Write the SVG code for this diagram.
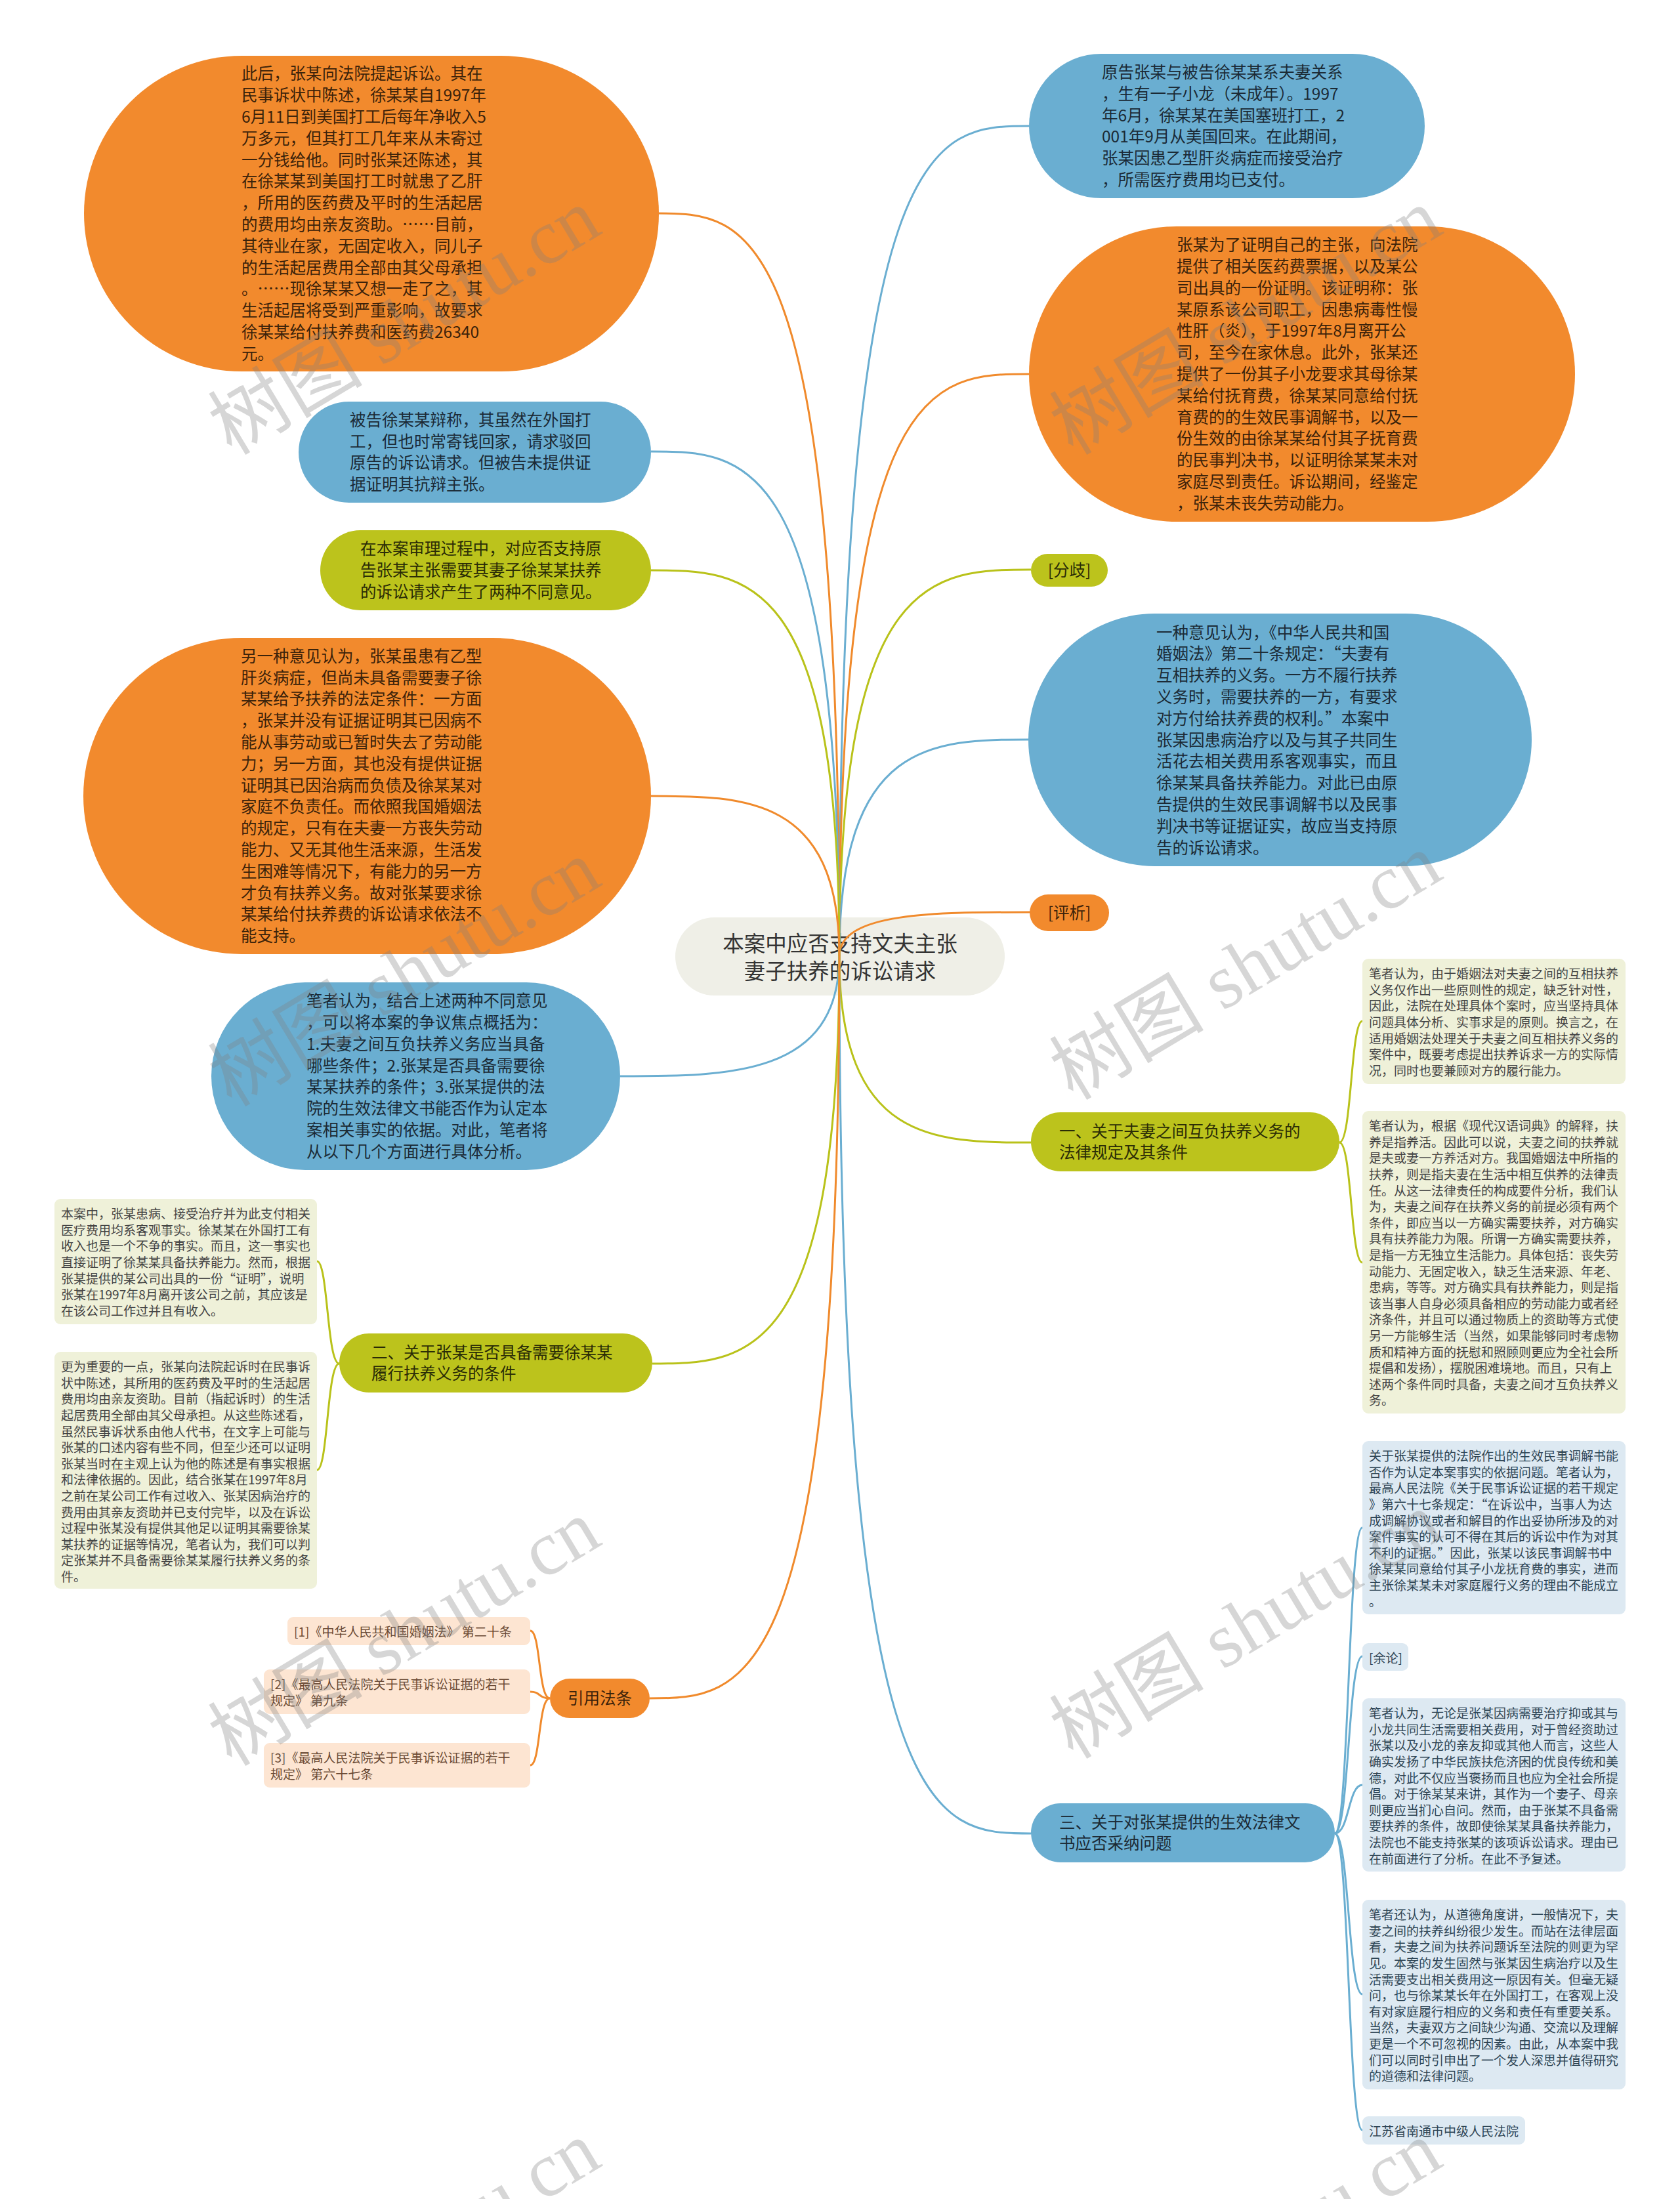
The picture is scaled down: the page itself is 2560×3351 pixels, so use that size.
<svg xmlns="http://www.w3.org/2000/svg" width="2560" height="3351" viewBox="0 0 2560 3351">
<style>
text{font-family:'Noto Sans CJK SC','Noto Sans',sans-serif;}
.o{fill:#f28a2d}.b{fill:#6aaed1}.g{fill:#bcc31c}.c{fill:#efefe7}
.bg{fill:#eff1d9}.bb{fill:#dde9f2}.bo{fill:#fde5d2}
.to{fill:#3b220a;font-size:24.5px}.tb{fill:#1b2a35;font-size:24.5px}.tg{fill:#2a2c06;font-size:24.5px}
.sg{fill:#444;font-size:19px}.sb{fill:#2e4555;font-size:19px}.so{fill:#6a4a35;font-size:19px}
.l{fill:none;stroke-width:3}.lo{stroke:#f08a2c}.lb{stroke:#6aaed1}.lg{stroke:#b9c21a}
.wm{fill:#808080;fill-opacity:0.32;font-family:'Liberation Serif','Noto Sans CJK SC',serif;font-size:118px}
</style>
<rect width="2560" height="3351" fill="#ffffff"/>

<g id="center">
<rect class="c" x="1029" y="1398" width="502" height="119" rx="59.5"/>
<text x="1280" y="1450" font-size="32.5" fill="#333" text-anchor="middle">本案中应否支持文夫主张<tspan x="1280" dy="42">妻子扶养的诉讼请求</tspan></text>
</g>

<g id="connectors">
<path class="l lb" d="M1279,1457 C1279,192 1423,192 1568,192"/>
<path class="l lo" d="M1279,1457 C1279,570 1423,570 1568,570"/>
<path class="l lg" d="M1279,1457 C1279,868 1425,868 1571,868"/>
<path class="l lb" d="M1279,1457 C1279,1127 1423,1127 1567,1127"/>
<path class="l lo" d="M1279,1457 C1279,1390 1425,1390 1571,1390"/>
<path class="l lg" d="M1279,1457 C1279,1741 1425,1741 1571,1741"/>
<path class="l lb" d="M1279,1457 C1279,2794 1425,2794 1571,2794"/>
<path class="l lo" d="M1279,1457 C1279,325 1140,325 1000,325"/>
<path class="l lb" d="M1279,1457 C1279,688 1135,688 992,688"/>
<path class="l lg" d="M1279,1457 C1279,869 1135,869 992,869"/>
<path class="l lo" d="M1279,1457 C1279,1213 1134,1213 990,1213"/>
<path class="l lb" d="M1279,1457 C1279,1640 1112,1640 945,1640"/>
<path class="l lg" d="M1279,1457 C1279,2078 1136,2078 994,2078"/>
<path class="l lo" d="M1279,1457 C1279,2588 1134,2588 990,2588"/>
<path class="l lg" d="M2041,1741 C2060,1741 2058,1556 2076,1556"/>
<path class="l lg" d="M2041,1741 C2060,1741 2058,1924 2076,1924"/>
<path class="l lb" d="M2034,2794 C2056,2794 2054,2328 2076,2328"/>
<path class="l lb" d="M2034,2794 C2056,2794 2054,2524 2076,2524"/>
<path class="l lb" d="M2034,2794 C2056,2794 2054,2720 2076,2720"/>
<path class="l lb" d="M2034,2794 C2056,2794 2054,3039 2076,3039"/>
<path class="l lb" d="M2034,2794 C2056,2794 2054,3246 2076,3246"/>
<path class="l lg" d="M517,2078 C498,2078 500,1922 483,1922"/>
<path class="l lg" d="M517,2078 C498,2078 500,2240 483,2240"/>
<path class="l lo" d="M838,2588 C820,2588 824,2485 808,2485"/>
<path class="l lo" d="M838,2588 C820,2588 824,2578 808,2578"/>
<path class="l lo" d="M838,2588 C820,2588 824,2690 808,2690"/>
</g>

<g id="n-tr">
<rect class="b" x="1568" y="82" width="603" height="220" rx="110"/>
<text class="tb" x="1679" y="119">原告张某与被告徐某某系夫妻关系<tspan x="1679" dy="32.8">，生有一子小龙（未成年）。1997</tspan><tspan x="1679" dy="32.8">年6月，徐某某在美国塞班打工，2</tspan><tspan x="1679" dy="32.8">001年9月从美国回来。在此期间，</tspan><tspan x="1679" dy="32.8">张某因患乙型肝炎病症而接受治疗</tspan><tspan x="1679" dy="32.8">，所需医疗费用均已支付。</tspan></text>
</g>

<g id="n-ro">
<rect class="o" x="1568" y="345" width="832" height="450" rx="225"/>
<text class="to" x="1793" y="382.2">张某为了证明自己的主张，向法院<tspan x="1793" dy="32.8">提供了相关医药费票据，以及某公</tspan><tspan x="1793" dy="32.8">司出具的一份证明。该证明称：张</tspan><tspan x="1793" dy="32.8">某原系该公司职工，因患病毒性慢</tspan><tspan x="1793" dy="32.8">性肝（炎），于1997年8月离开公</tspan><tspan x="1793" dy="32.8">司，至今在家休息。此外，张某还</tspan><tspan x="1793" dy="32.8">提供了一份其子小龙要求其母徐某</tspan><tspan x="1793" dy="32.8">某给付抚育费，徐某某同意给付抚</tspan><tspan x="1793" dy="32.8">育费的的生效民事调解书，以及一</tspan><tspan x="1793" dy="32.8">份生效的由徐某某给付其子抚育费</tspan><tspan x="1793" dy="32.8">的民事判决书，以证明徐某某未对</tspan><tspan x="1793" dy="32.8">家庭尽到责任。诉讼期间，经鉴定</tspan><tspan x="1793" dy="32.8">，张某未丧失劳动能力。</tspan></text>
</g>

<g id="n-fenqi">
<rect class="g" x="1571" y="844" width="117" height="50" rx="25"/>
<text class="tg" x="1629.5" y="877.5" text-anchor="middle">[分歧]</text>
</g>

<g id="n-rb">
<rect class="b" x="1567" y="935" width="767" height="385" rx="192.5"/>
<text class="tb" x="1762" y="972.5">一种意见认为，《中华人民共和国<tspan x="1762" dy="32.8">婚姻法》第二十条规定：“夫妻有</tspan><tspan x="1762" dy="32.8">互相扶养的义务。一方不履行扶养</tspan><tspan x="1762" dy="32.8">义务时，需要扶养的一方，有要求</tspan><tspan x="1762" dy="32.8">对方付给扶养费的权利。”本案中</tspan><tspan x="1762" dy="32.8">张某因患病治疗以及与其子共同生</tspan><tspan x="1762" dy="32.8">活花去相关费用系客观事实，而且</tspan><tspan x="1762" dy="32.8">徐某某具备扶养能力。对此已由原</tspan><tspan x="1762" dy="32.8">告提供的生效民事调解书以及民事</tspan><tspan x="1762" dy="32.8">判决书等证据证实，故应当支持原</tspan><tspan x="1762" dy="32.8">告的诉讼请求。</tspan></text>
</g>

<g id="n-pingxi">
<rect class="o" x="1569" y="1363" width="121" height="56" rx="28"/>
<text class="to" x="1629.5" y="1400" text-anchor="middle">[评析]</text>
</g>

<g id="n-one">
<rect class="g" x="1571" y="1695" width="470" height="90" rx="45"/>
<text class="tg" x="1614" y="1732.6">一、关于夫妻之间互负扶养义务的<tspan x="1614" dy="32.8">法律规定及其条件</tspan></text>
</g>

<g id="n-r1">
<rect class="bg" x="2076" y="1461" width="401" height="191" rx="9"/>
<text class="sg" x="2086" y="1491.2">笔者认为，由于婚姻法对夫妻之间的互相扶养<tspan x="2086" dy="24.6">义务仅作出一些原则性的规定，缺乏针对性，</tspan><tspan x="2086" dy="24.6">因此，法院在处理具体个案时，应当坚持具体</tspan><tspan x="2086" dy="24.6">问题具体分析、实事求是的原则。换言之，在</tspan><tspan x="2086" dy="24.6">适用婚姻法处理关于夫妻之间互相扶养义务的</tspan><tspan x="2086" dy="24.6">案件中，既要考虑提出扶养诉求一方的实际情</tspan><tspan x="2086" dy="24.6">况，同时也要兼顾对方的履行能力。</tspan></text>
</g>

<g id="n-r2">
<rect class="bg" x="2076" y="1693" width="401" height="461" rx="9"/>
<text class="sg" x="2086" y="1723.2">笔者认为，根据《现代汉语词典》的解释，扶<tspan x="2086" dy="24.6">养是指养活。因此可以说，夫妻之间的扶养就</tspan><tspan x="2086" dy="24.6">是夫或妻一方养活对方。我国婚姻法中所指的</tspan><tspan x="2086" dy="24.6">扶养，则是指夫妻在生活中相互供养的法律责</tspan><tspan x="2086" dy="24.6">任。从这一法律责任的构成要件分析，我们认</tspan><tspan x="2086" dy="24.6">为，夫妻之间存在扶养义务的前提必须有两个</tspan><tspan x="2086" dy="24.6">条件，即应当以一方确实需要扶养，对方确实</tspan><tspan x="2086" dy="24.6">具有扶养能力为限。所谓一方确实需要扶养，</tspan><tspan x="2086" dy="24.6">是指一方无独立生活能力。具体包括：丧失劳</tspan><tspan x="2086" dy="24.6">动能力、无固定收入，缺乏生活来源、年老、</tspan><tspan x="2086" dy="24.6">患病，等等。对方确实具有扶养能力，则是指</tspan><tspan x="2086" dy="24.6">该当事人自身必须具备相应的劳动能力或者经</tspan><tspan x="2086" dy="24.6">济条件，并且可以通过物质上的资助等方式使</tspan><tspan x="2086" dy="24.6">另一方能够生活（当然，如果能够同时考虑物</tspan><tspan x="2086" dy="24.6">质和精神方面的抚慰和照顾则更应为全社会所</tspan><tspan x="2086" dy="24.6">提倡和发扬），摆脱困难境地。而且，只有上</tspan><tspan x="2086" dy="24.6">述两个条件同时具备，夫妻之间才互负扶养义</tspan><tspan x="2086" dy="24.6">务。</tspan></text>
</g>

<g id="n-three">
<rect class="b" x="1571" y="2748" width="463" height="90" rx="45"/>
<text class="tb" x="1614" y="2785.6">三、关于对张某提供的生效法律文<tspan x="1614" dy="32.8">书应否采纳问题</tspan></text>
</g>

<g id="n-r3">
<rect class="bb" x="2076" y="2196" width="401" height="264" rx="9"/>
<text class="sb" x="2086" y="2226.2">关于张某提供的法院作出的生效民事调解书能<tspan x="2086" dy="24.6">否作为认定本案事实的依据问题。笔者认为，</tspan><tspan x="2086" dy="24.6">最高人民法院《关于民事诉讼证据的若干规定</tspan><tspan x="2086" dy="24.6">》第六十七条规定：“在诉讼中，当事人为达</tspan><tspan x="2086" dy="24.6">成调解协议或者和解目的作出妥协所涉及的对</tspan><tspan x="2086" dy="24.6">案件事实的认可不得在其后的诉讼中作为对其</tspan><tspan x="2086" dy="24.6">不利的证据。”因此，张某以该民事调解书中</tspan><tspan x="2086" dy="24.6">徐某某同意给付其子小龙抚育费的事实，进而</tspan><tspan x="2086" dy="24.6">主张徐某某未对家庭履行义务的理由不能成立</tspan><tspan x="2086" dy="24.6">。</tspan></text>
</g>

<g id="n-yulun">
<rect class="bb" x="2076" y="2504" width="70" height="42" rx="9"/>
<text class="sb" x="2086" y="2534">[余论]</text>
</g>

<g id="n-r4">
<rect class="bb" x="2076" y="2588" width="401" height="264" rx="9"/>
<text class="sb" x="2086" y="2618.2">笔者认为，无论是张某因病需要治疗抑或其与<tspan x="2086" dy="24.6">小龙共同生活需要相关费用，对于曾经资助过</tspan><tspan x="2086" dy="24.6">张某以及小龙的亲友抑或其他人而言，这些人</tspan><tspan x="2086" dy="24.6">确实发扬了中华民族扶危济困的优良传统和美</tspan><tspan x="2086" dy="24.6">德，对此不仅应当褒扬而且也应为全社会所提</tspan><tspan x="2086" dy="24.6">倡。对于徐某某来讲，其作为一个妻子、母亲</tspan><tspan x="2086" dy="24.6">则更应当扪心自问。然而，由于张某不具备需</tspan><tspan x="2086" dy="24.6">要扶养的条件，故即使徐某某具备扶养能力，</tspan><tspan x="2086" dy="24.6">法院也不能支持张某的该项诉讼请求。理由已</tspan><tspan x="2086" dy="24.6">在前面进行了分析。在此不予复述。</tspan></text>
</g>

<g id="n-r5">
<rect class="bb" x="2076" y="2895" width="401" height="289" rx="9"/>
<text class="sb" x="2086" y="2925.2">笔者还认为，从道德角度讲，一般情况下，夫<tspan x="2086" dy="24.6">妻之间的扶养纠纷很少发生。而站在法律层面</tspan><tspan x="2086" dy="24.6">看，夫妻之间为扶养问题诉至法院的则更为罕</tspan><tspan x="2086" dy="24.6">见。本案的发生固然与张某因生病治疗以及生</tspan><tspan x="2086" dy="24.6">活需要支出相关费用这一原因有关。但毫无疑</tspan><tspan x="2086" dy="24.6">问，也与徐某某长年在外国打工，在客观上没</tspan><tspan x="2086" dy="24.6">有对家庭履行相应的义务和责任有重要关系。</tspan><tspan x="2086" dy="24.6">当然，夫妻双方之间缺少沟通、交流以及理解</tspan><tspan x="2086" dy="24.6">更是一个不可忽视的因素。由此，从本案中我</tspan><tspan x="2086" dy="24.6">们可以同时引申出了一个发人深思并值得研究</tspan><tspan x="2086" dy="24.6">的道德和法律问题。</tspan></text>
</g>

<g id="n-r6">
<rect class="bb" x="2076" y="3225" width="248" height="43" rx="9"/>
<text class="sb" x="2086" y="3255">江苏省南通市中级人民法院</text>
</g>

<g id="n-tl">
<rect class="o" x="128" y="85" width="876" height="481" rx="240.5"/>
<text class="to" x="368" y="121.3">此后，张某向法院提起诉讼。其在<tspan x="368" dy="32.8">民事诉状中陈述，徐某某自1997年</tspan><tspan x="368" dy="32.8">6月11日到美国打工后每年净收入5</tspan><tspan x="368" dy="32.8">万多元，但其打工几年来从未寄过</tspan><tspan x="368" dy="32.8">一分钱给他。同时张某还陈述，其</tspan><tspan x="368" dy="32.8">在徐某某到美国打工时就患了乙肝</tspan><tspan x="368" dy="32.8">，所用的医药费及平时的生活起居</tspan><tspan x="368" dy="32.8">的费用均由亲友资助。……目前，</tspan><tspan x="368" dy="32.8">其待业在家，无固定收入，同儿子</tspan><tspan x="368" dy="32.8">的生活起居费用全部由其父母承担</tspan><tspan x="368" dy="32.8">。……现徐某某又想一走了之，其</tspan><tspan x="368" dy="32.8">生活起居将受到严重影响，故要求</tspan><tspan x="368" dy="32.8">徐某某给付扶养费和医药费26340</tspan><tspan x="368" dy="32.8">元。</tspan></text>
</g>

<g id="n-lb1">
<rect class="b" x="455" y="612" width="537" height="154" rx="77"/>
<text class="tb" x="533" y="648.8">被告徐某某辩称，其虽然在外国打<tspan x="533" dy="32.8">工，但也时常寄钱回家，请求驳回</tspan><tspan x="533" dy="32.8">原告的诉讼请求。但被告未提供证</tspan><tspan x="533" dy="32.8">据证明其抗辩主张。</tspan></text>
</g>

<g id="n-lg">
<rect class="g" x="488" y="808" width="504" height="122" rx="61"/>
<text class="tg" x="549" y="845.2">在本案审理过程中，对应否支持原<tspan x="549" dy="32.8">告张某主张需要其妻子徐某某扶养</tspan><tspan x="549" dy="32.8">的诉讼请求产生了两种不同意见。</tspan></text>
</g>

<g id="n-lo2">
<rect class="o" x="127" y="972" width="865" height="482" rx="241"/>
<text class="to" x="367" y="1008.8">另一种意见认为，张某虽患有乙型<tspan x="367" dy="32.8">肝炎病症，但尚未具备需要妻子徐</tspan><tspan x="367" dy="32.8">某某给予扶养的法定条件：一方面</tspan><tspan x="367" dy="32.8">，张某并没有证据证明其已因病不</tspan><tspan x="367" dy="32.8">能从事劳动或已暂时失去了劳动能</tspan><tspan x="367" dy="32.8">力；另一方面，其也没有提供证据</tspan><tspan x="367" dy="32.8">证明其已因治病而负债及徐某某对</tspan><tspan x="367" dy="32.8">家庭不负责任。而依照我国婚姻法</tspan><tspan x="367" dy="32.8">的规定，只有在夫妻一方丧失劳动</tspan><tspan x="367" dy="32.8">能力、又无其他生活来源，生活发</tspan><tspan x="367" dy="32.8">生困难等情况下，有能力的另一方</tspan><tspan x="367" dy="32.8">才负有扶养义务。故对张某要求徐</tspan><tspan x="367" dy="32.8">某某给付扶养费的诉讼请求依法不</tspan><tspan x="367" dy="32.8">能支持。</tspan></text>
</g>

<g id="n-lb2">
<rect class="b" x="322" y="1497" width="623" height="286" rx="143"/>
<text class="tb" x="467" y="1534.2">笔者认为，结合上述两种不同意见<tspan x="467" dy="32.8">，可以将本案的争议焦点概括为：</tspan><tspan x="467" dy="32.8">1.夫妻之间互负扶养义务应当具备</tspan><tspan x="467" dy="32.8">哪些条件；2.张某是否具备需要徐</tspan><tspan x="467" dy="32.8">某某扶养的条件；3.张某提供的法</tspan><tspan x="467" dy="32.8">院的生效法律文书能否作为认定本</tspan><tspan x="467" dy="32.8">案相关事实的依据。对此，笔者将</tspan><tspan x="467" dy="32.8">从以下几个方面进行具体分析。</tspan></text>
</g>

<g id="n-two">
<rect class="g" x="517" y="2032" width="477" height="90" rx="45"/>
<text class="tg" x="566" y="2069.6">二、关于张某是否具备需要徐某某<tspan x="566" dy="32.8">履行扶养义务的条件</tspan></text>
</g>

<g id="n-g1">
<rect class="bg" x="83" y="1827" width="400" height="191" rx="9"/>
<text class="sg" x="93" y="1857.2">本案中，张某患病、接受治疗并为此支付相关<tspan x="93" dy="24.6">医疗费用均系客观事实。徐某某在外国打工有</tspan><tspan x="93" dy="24.6">收入也是一个不争的事实。而且，这一事实也</tspan><tspan x="93" dy="24.6">直接证明了徐某某具备扶养能力。然而，根据</tspan><tspan x="93" dy="24.6">张某提供的某公司出具的一份“证明”，说明</tspan><tspan x="93" dy="24.6">张某在1997年8月离开该公司之前，其应该是</tspan><tspan x="93" dy="24.6">在该公司工作过并且有收入。</tspan></text>
</g>

<g id="n-g2">
<rect class="bg" x="83" y="2060" width="400" height="361" rx="9"/>
<text class="sg" x="93" y="2090.2">更为重要的一点，张某向法院起诉时在民事诉<tspan x="93" dy="24.6">状中陈述，其所用的医药费及平时的生活起居</tspan><tspan x="93" dy="24.6">费用均由亲友资助。目前（指起诉时）的生活</tspan><tspan x="93" dy="24.6">起居费用全部由其父母承担。从这些陈述看，</tspan><tspan x="93" dy="24.6">虽然民事诉状系由他人代书，在文字上可能与</tspan><tspan x="93" dy="24.6">张某的口述内容有些不同，但至少还可以证明</tspan><tspan x="93" dy="24.6">张某当时在主观上认为他的陈述是有事实根据</tspan><tspan x="93" dy="24.6">和法律依据的。因此，结合张某在1997年8月</tspan><tspan x="93" dy="24.6">之前在某公司工作有过收入、张某因病治疗的</tspan><tspan x="93" dy="24.6">费用由其亲友资助并已支付完毕，以及在诉讼</tspan><tspan x="93" dy="24.6">过程中张某没有提供其他足以证明其需要徐某</tspan><tspan x="93" dy="24.6">某扶养的证据等情况，笔者认为，我们可以判</tspan><tspan x="93" dy="24.6">定张某并不具备需要徐某某履行扶养义务的条</tspan><tspan x="93" dy="24.6">件。</tspan></text>
</g>

<g id="n-cite">
<rect class="o" x="838" y="2558" width="152" height="60" rx="30"/>
<text class="to" x="914" y="2597" text-anchor="middle">引用法条</text>
</g>

<g id="n-c1">
<rect class="bo" x="438" y="2464" width="370" height="43" rx="9"/>
<text class="so" x="448" y="2494">[1]《中华人民共和国婚姻法》 第二十条</text>
</g>

<g id="n-c2">
<rect class="bo" x="402" y="2544" width="406" height="68" rx="9"/>
<text class="so" x="412" y="2574">[2]《最高人民法院关于民事诉讼证据的若干<tspan x="412" dy="24.6">规定》 第九条</tspan></text>
</g>

<g id="n-c3">
<rect class="bo" x="402" y="2656" width="406" height="68" rx="9"/>
<text class="so" x="412" y="2686">[3]《最高人民法院关于民事诉讼证据的若干<tspan x="412" dy="24.6">规定》 第六十七条</tspan></text>
</g>

<g id="watermarks">
<text class="wm" x="353" y="695" transform="rotate(-31 353 695)">树图 shutu.cn</text>
<text class="wm" x="1635" y="695" transform="rotate(-31 1635 695)">树图 shutu.cn</text>
<text class="wm" x="353" y="1688" transform="rotate(-31 353 1688)">树图 shutu.cn</text>
<text class="wm" x="1635" y="1678" transform="rotate(-31 1635 1678)">树图 shutu.cn</text>
<text class="wm" x="353" y="2693" transform="rotate(-31 353 2693)">树图 shutu.cn</text>
<text class="wm" x="1635" y="2682" transform="rotate(-31 1635 2682)">树图 shutu.cn</text>
<text class="wm" x="353" y="3640" transform="rotate(-31 353 3640)">树图 shutu.cn</text>
<text class="wm" x="1635" y="3640" transform="rotate(-31 1635 3640)">树图 shutu.cn</text>
</g>
</svg>
